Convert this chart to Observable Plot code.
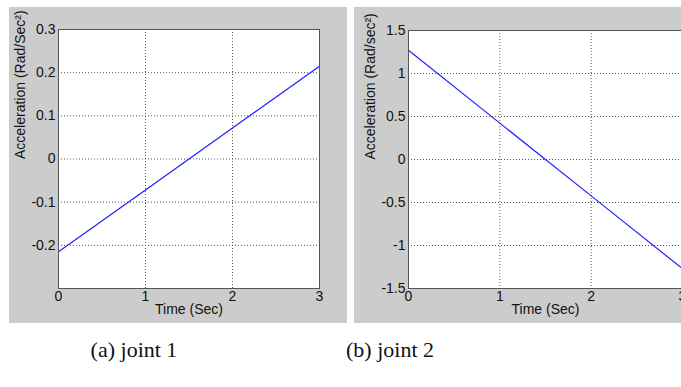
<!DOCTYPE html>
<html>
<head>
<meta charset="utf-8">
<script src="https://cdn.jsdelivr.net/npm/d3@7"></script>
<script src="https://cdn.jsdelivr.net/npm/@observablehq/plot@0.6"></script>
<style>
  html, body { margin: 0; padding: 0; background: #ffffff; }
  #page { position: relative; width: 681px; height: 387px; overflow: hidden; background: #ffffff; }
  .panel { position: absolute; top: 7px; width: 338px; height: 316px; }
  .panel svg { display: block; max-width: none !important; }
  .caption {
    position: absolute; width: 200px; text-align: center;
    font-family: "Liberation Serif", "Times New Roman", serif;
    font-size: 22px; line-height: 22px; color: #111;
  }
</style>
</head>
<body>
<div id="page">
  <div class="panel" id="joint1" style="left: 9px;"></div>
  <div class="panel" id="joint2" style="left: 354px;"></div>
  <div class="caption" style="left: 34px; top: 339px;">(a) joint 1</div>
  <div class="caption" style="left: 290px; top: 339px;">(b) joint 2</div>
</div>
<script>
// Sample times (s) and joint accelerations (rad/s²)
const time = [0, 1, 2, 3];
const joint1Accel = [-0.215, -0.072, 0.072, 0.215];
const joint2Accel = [1.27, 0.423, -0.423, -1.27];

// Axis ticks
const timeTicks = [0, 1, 2, 3];
const joint1Ticks = [-0.2, -0.1, 0, 0.1, 0.2, 0.3];
const joint2Ticks = [-1.5, -1, -0.5, 0, 0.5, 1, 1.5];

const fmt = d => String(d);
const FS = 14;

function accelPanel({values, yDomain, yTicks, yLabel, margins}) {
  const rows = time.map((t, i) => ({t, a: values[i]}));
  return Plot.plot({
    width: 338,
    height: 316,
    ...margins,
    style: {
      background: "#cccccc",
      fontFamily: "'Liberation Sans', Arial, Helvetica, sans-serif",
      fontSize: FS + "px",
      color: "#111",
      maxWidth: "none"
    },
    x: {domain: [0, 3]},
    y: {domain: yDomain},
    marks: [
      Plot.frame({fill: "white", stroke: "none"}),
      Plot.gridX({ticks: timeTicks.slice(1, -1), stroke: "#555", strokeOpacity: 1, strokeDasharray: "1,2"}),
      Plot.gridY({ticks: yTicks.filter(v => v > yDomain[0] && v < yDomain[1]), stroke: "#555", strokeOpacity: 1, strokeDasharray: "1,2"}),
      Plot.axisX({ticks: timeTicks, tickSize: 0, tickPadding: 3, tickFormat: fmt, label: null, fontSize: FS}),
      Plot.axisY({ticks: yTicks, tickSize: 0, tickPadding: 3, tickFormat: fmt, label: null, fontSize: FS}),
      Plot.line(rows, {x: "t", y: "a", stroke: "#1f1fff", strokeWidth: 1.2}),
      Plot.frame({stroke: "#555", strokeWidth: 1}),
      Plot.text(["Time (Sec)"], {frameAnchor: "bottom", dy: 25, text: d => d, fontSize: FS}),
      Plot.text([yLabel], {frameAnchor: "left", dx: -38, rotate: -90, text: d => d, fontSize: FS})
    ]
  });
}

document.getElementById("joint1").append(accelPanel({
  values: joint1Accel,
  yDomain: [-0.3, 0.3],
  yTicks: joint1Ticks,
  yLabel: "Acceleration (Rad/Sec²)",
  margins: {marginLeft: 49, marginRight: 28, marginTop: 22, marginBottom: 35}
}));

document.getElementById("joint2").append(accelPanel({
  values: joint2Accel,
  yDomain: [-1.5, 1.5],
  yTicks: joint2Ticks,
  yLabel: "Acceleration (Rad/sec²)",
  margins: {marginLeft: 54, marginRight: 10, marginTop: 23, marginBottom: 35}
}));
</script>
</body>
</html>
